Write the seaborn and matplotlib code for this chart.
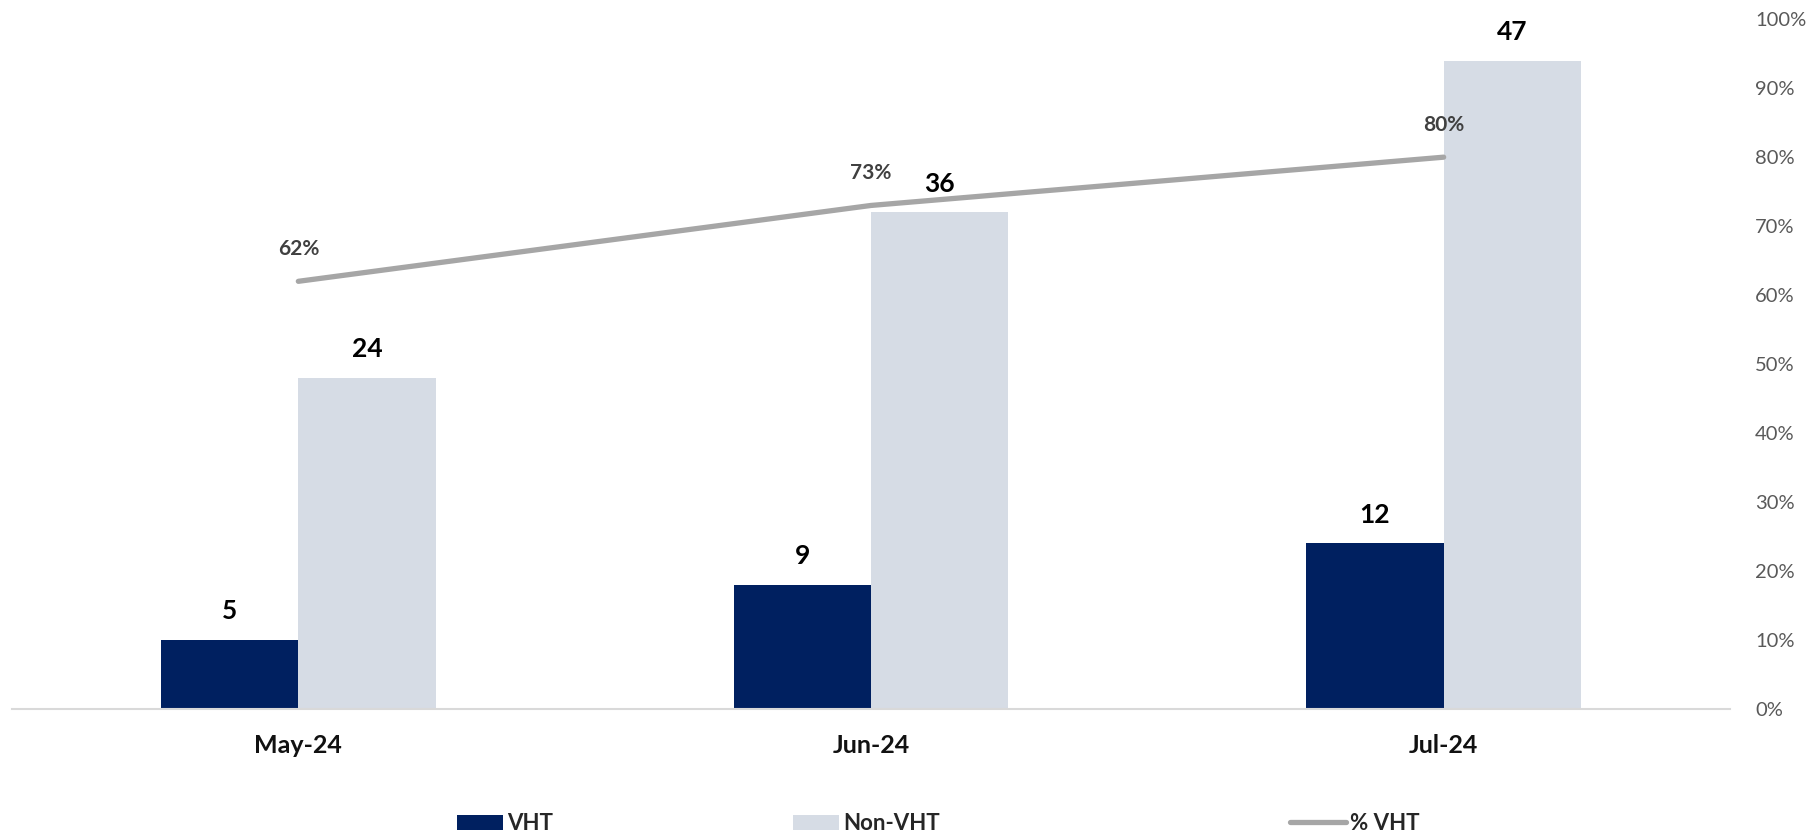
import matplotlib
matplotlib.use("Agg")
import matplotlib.pyplot as plt
import seaborn as sns
import pandas as pd
from matplotlib.patches import Patch
from matplotlib.lines import Line2D

months = ["May-24", "Jun-24", "Jul-24"]
vht = [5, 9, 12]
non_vht = [24, 36, 47]
pct_vht = [0.62, 0.73, 0.80]
pct_labels = ["62%", "73%", "80%"]

sns.set_theme(style="white")
plt.rcParams['font.family'] = ['Lato', 'DejaVu Sans']

df = pd.DataFrame({
    "Month": months * 2,
    "Count": vht + non_vht,
    "Type": ["VHT"] * 3 + ["Non-VHT"] * 3,
})

c_vht = "#002060"
c_non = "#d6dce5"
c_line = "#a6a6a6"

W, H = 1811, 836
fig = plt.figure(figsize=(W / 100, H / 100), dpi=100)
ax = fig.add_axes([12 / W, 0.152, (1730 - 12) / W, 0.825])

sns.barplot(data=df, x="Month", y="Count", hue="Type", order=months,
            hue_order=["VHT", "Non-VHT"], palette=[c_vht, c_non],
            width=0.48, gap=0, saturation=1, ax=ax, legend=False,
            edgecolor="none", linewidth=0)
ax.set_ylim(0, 50)
ax.set_xlim(-0.5, 2.5)
ax.set_yticks([])
ax.set_xlabel("")
ax.set_ylabel("")
for s in ["top", "left", "right"]:
    ax.spines[s].set_visible(False)
ax.spines["bottom"].set_color("#d9d9d9")
ax.spines["bottom"].set_linewidth(1.5)
ax.tick_params(axis="x", length=0, pad=18)
for lbl in ax.get_xticklabels():
    lbl.set_fontweight("bold")
    lbl.set_fontsize(18)
    lbl.set_color("#111111")

for cont in ax.containers:
    ax.bar_label(cont, fmt="%d", padding=12, fontsize=19, fontweight="bold", color="black")

ax2 = ax.twinx()
sns.lineplot(x=months, y=pct_vht, ax=ax2, color=c_line, linewidth=3.8,
             solid_capstyle="round", sort=False)
ax2.set_ylim(0, 1)
ax2.set_yticks([i / 10 for i in range(11)])
ax2.set_yticklabels([f"{i*10}%" for i in range(11)])
for s in ["top", "left", "right", "bottom"]:
    ax2.spines[s].set_visible(False)
ax2.tick_params(axis="y", length=0, pad=18, labelsize=14.5, labelcolor="#595959")
ax2.set_ylabel("")

for i, (m, p, t) in enumerate(zip(months, pct_vht, pct_labels)):
    ax2.annotate(t, (i, p), xytext=(0, 16), textcoords="offset points",
                 ha="center", va="bottom", fontsize=15, fontweight="bold", color="#404040")

# legend entries placed like the original (separate slots)
entries = [
    (Patch(facecolor=c_vht, edgecolor="none"), "VHT", 457, 2.05),
    (Patch(facecolor=c_non, edgecolor="none"), "Non-VHT", 793, 2.05),
    (Line2D([0], [0], color=c_line, linewidth=3.8, solid_capstyle="round"), "% VHT", 1290, 2.5),
]
for h, lab, x0, hl in entries:
    fig.legend([h], [lab], loc="center left", bbox_to_anchor=(x0 / W, 0.015),
               frameon=False, borderpad=0, borderaxespad=0,
               handlelength=hl, handleheight=0.65, handletextpad=0.2,
               prop={"weight": "bold", "size": 16})

fig.savefig("out.png", dpi=100)
